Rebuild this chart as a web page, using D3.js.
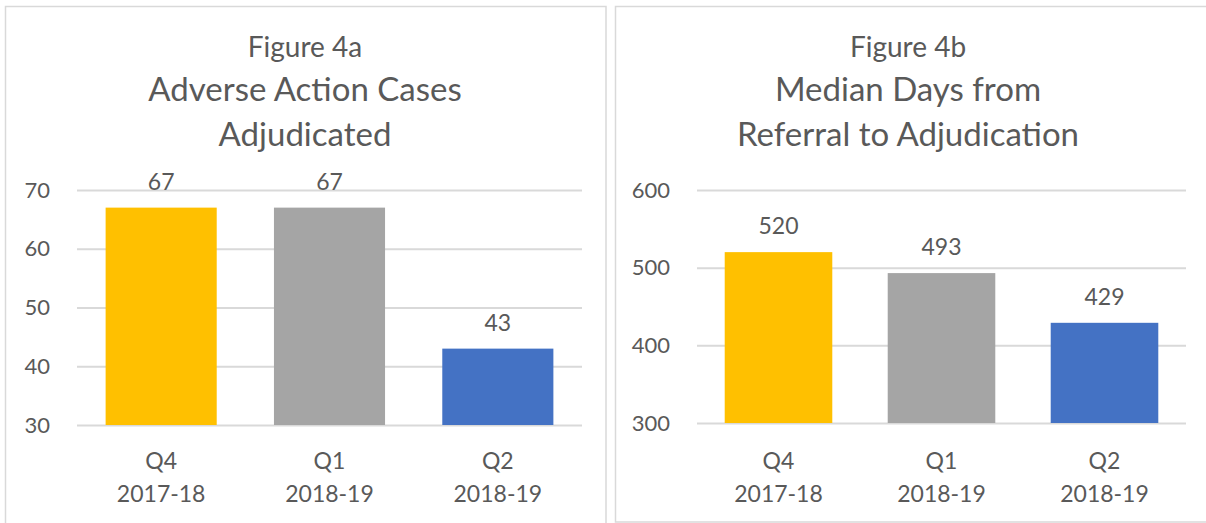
<!DOCTYPE html>
<html>
<head>
<meta charset="utf-8">
<script src="https://cdn.jsdelivr.net/npm/d3@7"></script>
<style>
  html, body { margin: 0; padding: 0; background: #fff; }
  svg { display: block; }
  text { font-family: Lato, "Open Sans", sans-serif; fill: #595959; }
</style>
</head>
<body>
<svg id="chart" width="1206" height="523"></svg>
<script>
// ---- data ----
const categories = ["Q4|2017-18", "Q1|2018-19", "Q2|2018-19"];
const barColors = ["#FFC000", "#A5A5A5", "#4472C4"];

const casesTitle = ["Figure 4a", "Adverse Action Cases", "Adjudicated"];
const casesValues = [67, 67, 43];
const casesTicks = [30, 40, 50, 60, 70];

const daysTitle = ["Figure 4b", "Median Days from", "Referral to Adjudication"];
const daysValues = [520, 493, 429];
const daysTicks = [300, 400, 500, 600];

const svg = d3.select("#chart");

function panel(cfg) {
  const g = svg.append("g");
  // border
  g.append("rect")
    .attr("x", cfg.box[0]).attr("y", cfg.box[1])
    .attr("width", cfg.box[2]).attr("height", cfg.box[3])
    .attr("fill", "none").attr("stroke", "#D9D9D9").attr("stroke-width", 1.5);

  // titles
  const cx = cfg.titleX;
  g.append("text").attr("x", cx).attr("y", 57).attr("text-anchor", "middle")
    .style("font-size", "28px").text(cfg.title[0]);
  g.append("text").attr("x", cx).attr("y", 101).attr("text-anchor", "middle")
    .style("font-size", "33px").text(cfg.title[1]);
  g.append("text").attr("x", cx).attr("y", 146).attr("text-anchor", "middle")
    .style("font-size", "33px").text(cfg.title[2]);

  const x = d3.scaleBand().domain(categories).range([cfg.x0, cfg.x1]).paddingInner(0.34).paddingOuter(0.17);
  const y = d3.scaleLinear().domain(cfg.domain).range([cfg.y0, cfg.y1]);

  // gridlines via axis
  const grid = g.append("g").attr("transform", `translate(${cfg.x0},0)`)
    .call(d3.axisLeft(y).tickValues(cfg.ticks).tickSize(-(cfg.x1 - cfg.x0)).tickFormat(""));
  grid.select(".domain").remove();
  grid.selectAll(".tick line").attr("stroke", "#D9D9D9").attr("stroke-width", 2);

  // tick labels
  const lab = g.append("g").attr("transform", `translate(${cfg.x0 - 27},0)`)
    .call(d3.axisLeft(y).tickValues(cfg.ticks).tickSize(0).tickPadding(0));
  lab.select(".domain").remove();
  lab.selectAll(".tick text").style("font-size", "22px").style("font-family", "Lato, sans-serif")
    .attr("fill", "#595959");

  // bars
  g.selectAll("rect.bar").data(cfg.values).enter().append("rect")
    .attr("class", "bar")
    .attr("x", (d, i) => x(categories[i]))
    .attr("width", x.bandwidth())
    .attr("y", d => y(d))
    .attr("height", d => y(cfg.domain[0]) - y(d))
    .attr("fill", (d, i) => barColors[i]);

  // value labels
  g.selectAll("text.val").data(cfg.values).enter().append("text")
    .attr("class", "val")
    .attr("x", (d, i) => x(categories[i]) + x.bandwidth() / 2)
    .attr("y", d => y(d) - 18)
    .attr("text-anchor", "middle")
    .style("font-size", "23px")
    .text(d => d);

  // category labels
  categories.forEach(c => {
    const parts = c.split("|");
    const t = g.append("text")
      .attr("x", x(c) + x.bandwidth() / 2)
      .attr("y", 469)
      .attr("text-anchor", "middle")
      .style("font-size", "23px");
    t.append("tspan").attr("x", x(c) + x.bandwidth() / 2).attr("dy", 0).text(parts[0]);
    t.append("tspan").attr("x", x(c) + x.bandwidth() / 2).attr("y", 502).text(parts[1]);
  });
}

panel({
  box: [5.5, 6.5, 600.5, 530],
  titleX: 305,
  title: casesTitle,
  values: casesValues,
  ticks: casesTicks,
  domain: [30, 70],
  x0: 77, x1: 582, y0: 425, y1: 190
});

panel({
  box: [615.5, 6.5, 600, 515.5],
  titleX: 908,
  title: daysTitle,
  values: daysValues,
  ticks: daysTicks,
  domain: [300, 600],
  x0: 697, x1: 1186, y0: 423, y1: 190
});
</script>
</body>
</html>
